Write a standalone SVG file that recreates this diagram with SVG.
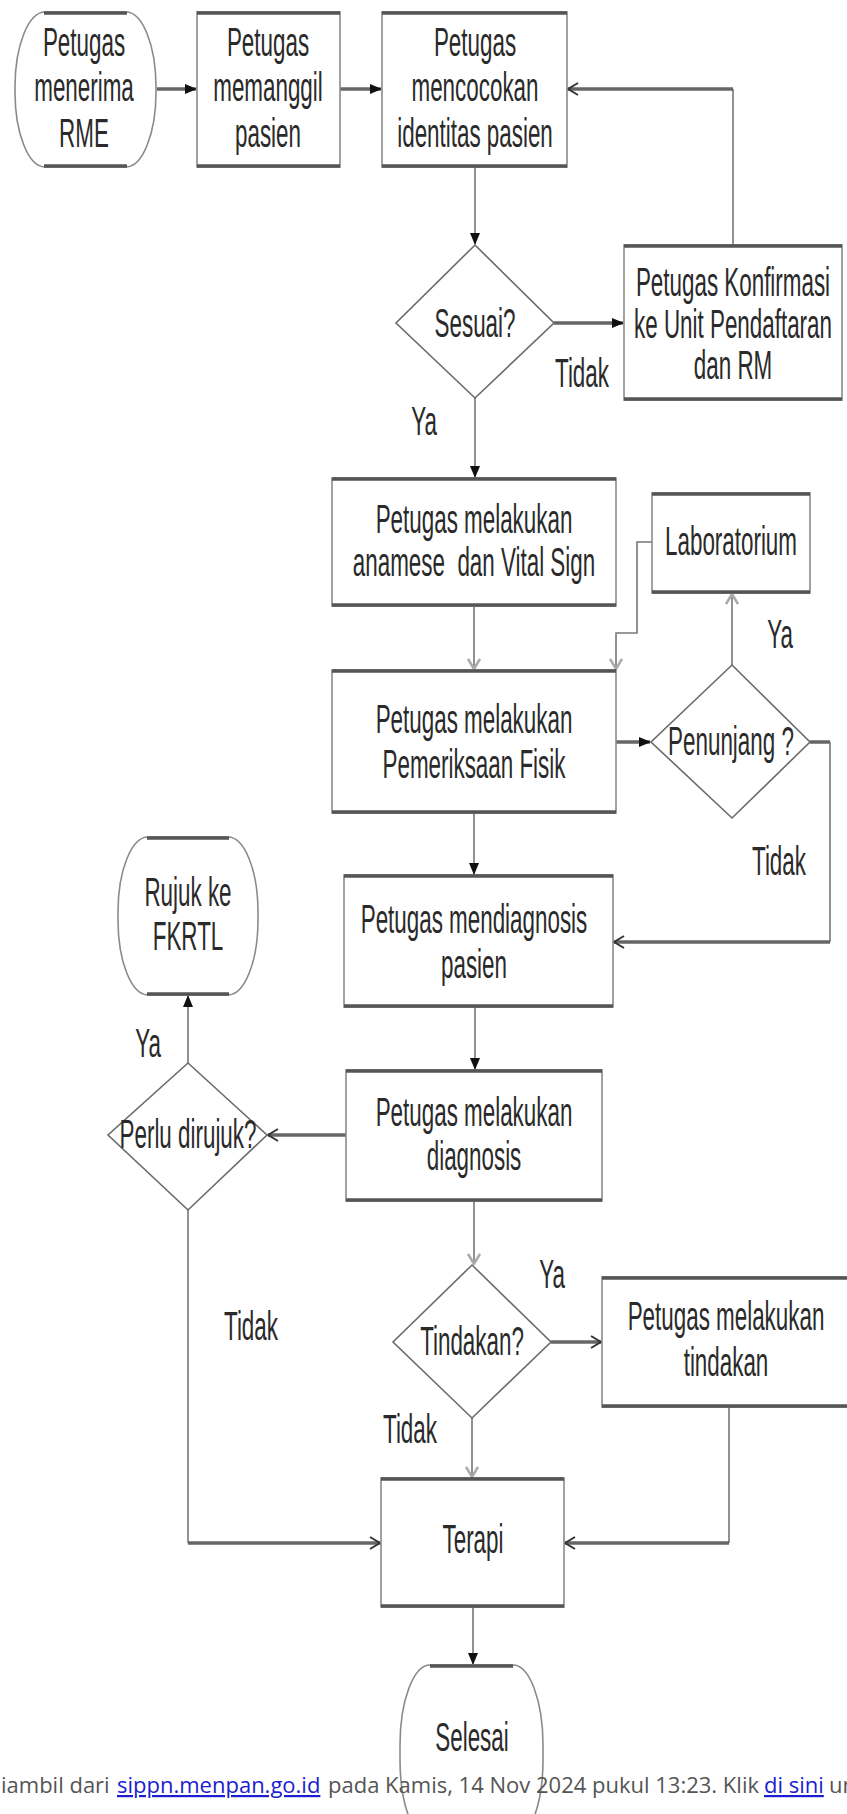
<svg xmlns="http://www.w3.org/2000/svg" width="847" height="1814" viewBox="0 0 847 1814">
<style>
.box{fill:#fff;stroke:#8a8a8a;stroke-width:1.6}
.edge{stroke:#555;stroke-width:3.5;fill:none}
.dia{fill:#fff;stroke:#6a6a6a;stroke-width:1.6}
.v{stroke:#777;stroke-width:1.6;fill:none}
.h{stroke:#666;stroke-width:3.5;fill:none}
.t{font-family:"Liberation Sans",Arial,sans-serif;font-size:40px;fill:#2a2a2a;text-anchor:middle}
.foot{font-family:"Open Sans","Noto Sans",sans-serif;font-size:22px;fill:#555}
.lnk{fill:#1c1cd0;text-decoration:underline}
</style>
<defs>
<marker id="af" markerUnits="userSpaceOnUse" markerWidth="12" markerHeight="10" refX="11" refY="5" orient="auto"><path d="M0,0 L12,5 L0,10 z" fill="#111"/></marker>
<marker id="ao" markerUnits="userSpaceOnUse" markerWidth="12" markerHeight="14" refX="11" refY="7" orient="auto"><path d="M1,1 L11,7 L1,13" fill="none" stroke="#333" stroke-width="2"/></marker>
<marker id="ag" markerUnits="userSpaceOnUse" markerWidth="12" markerHeight="14" refX="11" refY="7" orient="auto"><path d="M1,1 L11,7 L1,13" fill="none" stroke="#aaa" stroke-width="2.5"/></marker>
</defs>

<g id="connectors">
<line class="h" x1="157" y1="89" x2="196" y2="89" marker-end="url(#af)"/>
<line class="h" x1="340" y1="89" x2="381" y2="89" marker-end="url(#af)"/>
<line class="v" x1="733" y1="245" x2="733" y2="89"/>
<line class="h" x1="733" y1="89" x2="568" y2="89" marker-end="url(#ao)"/>
<line class="v" x1="475" y1="167" x2="475" y2="244" marker-end="url(#af)"/>
<line class="h" x1="554" y1="323" x2="623" y2="323" marker-end="url(#af)"/>
<line class="v" x1="475" y1="398" x2="475" y2="477" marker-end="url(#af)"/>
<line class="v" x1="474" y1="606" x2="474" y2="669" marker-end="url(#ag)"/>
<polyline class="v" points="652,542 637,542 637,633 616,633 616,669" marker-end="url(#ag)"/>
<line class="h" x1="616" y1="742" x2="650" y2="742" marker-end="url(#af)"/>
<line class="v" x1="732" y1="665" x2="732" y2="594" marker-end="url(#ag)"/>
<line class="h" x1="810" y1="742" x2="830" y2="742"/>
<line class="v" x1="830" y1="742" x2="830" y2="942"/>
<line class="h" x1="830" y1="942" x2="614" y2="942" marker-end="url(#ao)"/>
<line class="v" x1="474" y1="813" x2="474" y2="874" marker-end="url(#af)"/>
<line class="v" x1="475" y1="1007" x2="475" y2="1069" marker-end="url(#af)"/>
<line class="h" x1="346" y1="1135" x2="268" y2="1135" marker-end="url(#ao)"/>
<line class="v" x1="188" y1="1063" x2="188" y2="996" marker-end="url(#af)"/>
<line class="v" x1="474" y1="1201" x2="474" y2="1264" marker-end="url(#ag)"/>
<line class="h" x1="551" y1="1342" x2="601" y2="1342" marker-end="url(#ao)"/>
<line class="v" x1="472" y1="1418" x2="472" y2="1477" marker-end="url(#ag)"/>
<line class="v" x1="188" y1="1210" x2="188" y2="1543"/>
<line class="h" x1="188" y1="1543" x2="380" y2="1543" marker-end="url(#ao)"/>
<line class="v" x1="729" y1="1407" x2="729" y2="1543"/>
<line class="h" x1="729" y1="1543" x2="565" y2="1543" marker-end="url(#ao)"/>
<line class="v" x1="473" y1="1607" x2="473" y2="1664" marker-end="url(#af)"/>
</g>

<g id="n-start">
<rect class="box" x="15" y="12" width="141" height="155" rx="30" ry="75"/>
<line class="edge" x1="44" y1="13" x2="127" y2="13"/><line class="edge" x1="44" y1="166" x2="127" y2="166"/>
<g transform="translate(84,0) scale(0.56,1)"><text class="t" x="0" y="56">Petugas</text><text class="t" x="0" y="101">menerima</text><text class="t" x="0" y="147">RME</text></g>
</g>

<g id="n-panggil">
<rect class="box" x="197" y="12" width="143" height="155"/>
<line class="edge" x1="197" y1="13" x2="340" y2="13"/><line class="edge" x1="197" y1="166" x2="340" y2="166"/>
<g transform="translate(268,0) scale(0.56,1)"><text class="t" x="0" y="56">Petugas</text><text class="t" x="0" y="101">memanggil</text><text class="t" x="0" y="147">pasien</text></g>
</g>

<g id="n-cocok">
<rect class="box" x="382" y="12" width="185" height="155"/>
<line class="edge" x1="382" y1="13" x2="567" y2="13"/><line class="edge" x1="382" y1="166" x2="567" y2="166"/>
<g transform="translate(475,0) scale(0.56,1)"><text class="t" x="0" y="56">Petugas</text><text class="t" x="0" y="101">mencocokan</text><text class="t" x="0" y="147">identitas pasien</text></g>
</g>

<g id="n-sesuai">
<polygon class="dia" points="475,245 554,323 475,398 396,323"/>
<g transform="translate(475,0) scale(0.56,1)"><text class="t" x="0" y="337">Sesuai?</text></g>
</g>

<g id="n-konfirmasi">
<rect class="box" x="624" y="245" width="218" height="155"/>
<line class="edge" x1="624" y1="246" x2="842" y2="246"/><line class="edge" x1="624" y1="399" x2="842" y2="399"/>
<g transform="translate(733,0) scale(0.56,1)"><text class="t" x="0" y="296">Petugas Konfirmasi</text><text class="t" x="0" y="338">ke Unit Pendaftaran</text><text class="t" x="0" y="379">dan RM</text></g>
</g>

<g id="labels">
<g transform="translate(582,0) scale(0.56,1)"><text class="t" x="0" y="387">Tidak</text></g>
<g transform="translate(424,0) scale(0.56,1)"><text class="t" x="0" y="435">Ya</text></g>
<g transform="translate(780,0) scale(0.56,1)"><text class="t" x="0" y="648">Ya</text></g>
<g transform="translate(779,0) scale(0.56,1)"><text class="t" x="0" y="875">Tidak</text></g>
<g transform="translate(148,0) scale(0.56,1)"><text class="t" x="0" y="1057">Ya</text></g>
<g transform="translate(552,0) scale(0.56,1)"><text class="t" x="0" y="1288">Ya</text></g>
<g transform="translate(251,0) scale(0.56,1)"><text class="t" x="0" y="1340">Tidak</text></g>
<g transform="translate(410,0) scale(0.56,1)"><text class="t" x="0" y="1443">Tidak</text></g>
</g>

<g id="n-anamese">
<rect class="box" x="332" y="478" width="284" height="128"/>
<line class="edge" x1="332" y1="479" x2="616" y2="479"/><line class="edge" x1="332" y1="605" x2="616" y2="605"/>
<g transform="translate(474,0) scale(0.56,1)"><text class="t" x="0" y="533">Petugas melakukan</text><text class="t" x="0" y="576" xml:space="preserve">anamese  dan Vital Sign</text></g>
</g>

<g id="n-lab">
<rect class="box" x="652" y="493" width="158" height="100"/>
<line class="edge" x1="652" y1="494" x2="810" y2="494"/><line class="edge" x1="652" y1="592" x2="810" y2="592"/>
<g transform="translate(731,0) scale(0.56,1)"><text class="t" x="0" y="555">Laboratorium</text></g>
</g>

<g id="n-fisik">
<rect class="box" x="332" y="670" width="284" height="143"/>
<line class="edge" x1="332" y1="671" x2="616" y2="671"/><line class="edge" x1="332" y1="812" x2="616" y2="812"/>
<g transform="translate(474,0) scale(0.56,1)"><text class="t" x="0" y="733">Petugas melakukan</text><text class="t" x="0" y="778">Pemeriksaan Fisik</text></g>
</g>

<g id="n-penunjang">
<polygon class="dia" points="732,665 810,742 732,818 651,742"/>
<g transform="translate(731,0) scale(0.56,1)"><text class="t" x="0" y="755">Penunjang ?</text></g>
</g>

<g id="n-mendiagnosis">
<rect class="box" x="344" y="875" width="269" height="132"/>
<line class="edge" x1="344" y1="876" x2="613" y2="876"/><line class="edge" x1="344" y1="1006" x2="613" y2="1006"/>
<g transform="translate(474,0) scale(0.56,1)"><text class="t" x="0" y="933">Petugas mendiagnosis</text><text class="t" x="0" y="978">pasien</text></g>
</g>

<g id="n-rujuk">
<rect class="box" x="118" y="837" width="140" height="158" rx="30" ry="75"/>
<line class="edge" x1="147" y1="838" x2="229" y2="838"/><line class="edge" x1="147" y1="994" x2="229" y2="994"/>
<g transform="translate(188,0) scale(0.56,1)"><text class="t" x="0" y="906">Rujuk ke</text><text class="t" x="0" y="950">FKRTL</text></g>
</g>

<g id="n-diagnosis">
<rect class="box" x="346" y="1070" width="256" height="131"/>
<line class="edge" x1="346" y1="1071" x2="602" y2="1071"/><line class="edge" x1="346" y1="1200" x2="602" y2="1200"/>
<g transform="translate(474,0) scale(0.56,1)"><text class="t" x="0" y="1126">Petugas melakukan</text><text class="t" x="0" y="1170">diagnosis</text></g>
</g>

<g id="n-perlu">
<polygon class="dia" points="188,1063 267,1135 188,1210 108,1135"/>
<g transform="translate(188,0) scale(0.56,1)"><text class="t" x="0" y="1148">Perlu dirujuk?</text></g>
</g>

<g id="n-tindakan-q">
<polygon class="dia" points="472,1265 551,1342 472,1418 393,1342"/>
<g transform="translate(472,0) scale(0.56,1)"><text class="t" x="0" y="1355">Tindakan?</text></g>
</g>

<g id="n-tindakan">
<rect class="box" x="602" y="1277" width="260" height="130"/>
<line class="edge" x1="602" y1="1278" x2="862" y2="1278"/><line class="edge" x1="602" y1="1406" x2="862" y2="1406"/>
<g transform="translate(726,0) scale(0.56,1)"><text class="t" x="0" y="1330">Petugas melakukan</text><text class="t" x="0" y="1376">tindakan</text></g>
</g>

<g id="n-terapi">
<rect class="box" x="381" y="1478" width="183" height="129"/>
<line class="edge" x1="381" y1="1479" x2="564" y2="1479"/><line class="edge" x1="381" y1="1606" x2="564" y2="1606"/>
<g transform="translate(473,0) scale(0.56,1)"><text class="t" x="0" y="1553">Terapi</text></g>
</g>

<g id="n-selesai">
<rect class="box" x="400" y="1665" width="143" height="175" rx="30" ry="80"/>
<line class="edge" x1="430" y1="1666" x2="513" y2="1666"/>
<g transform="translate(472,0) scale(0.56,1)"><text class="t" x="0" y="1751">Selesai</text></g>
</g>

<text class="foot" y="1793"><tspan x="1">iambil dari</tspan><tspan class="lnk" x="117">sippn.menpan.go.id</tspan><tspan x="328">pada Kamis, 14 Nov 2024 pukul 13:23. Klik</tspan><tspan class="lnk" x="764">di sini</tspan><tspan x="829">un</tspan></text>
</svg>
